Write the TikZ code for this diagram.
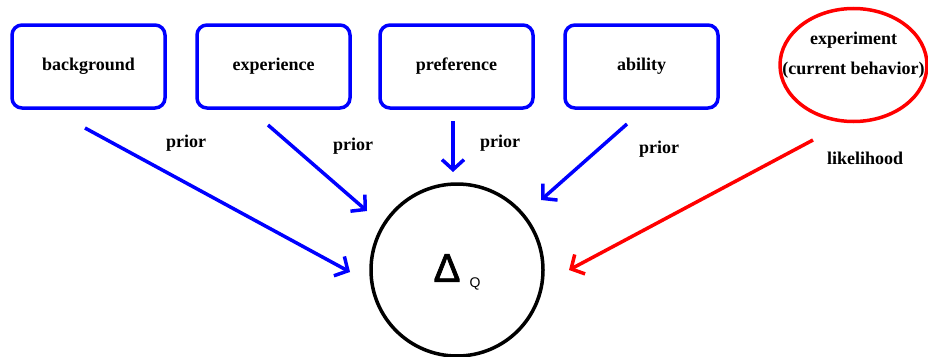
\documentclass[tikz,border=0pt]{standalone}
\usepackage{fontspec}
\setmainfont{Liberation Serif}
\newfontfamily\symfont{Liberation Sans}
\newfontfamily\trifont[FakeBold=2]{Liberation Sans}
\usetikzlibrary{arrows.meta,shapes.geometric}
\definecolor{pblue}{RGB}{0,0,255}
\definecolor{pred}{RGB}{255,0,0}
\tikzset{
  txt/.style={font=\fontsize{18}{21}\selectfont\bfseries},
  srcbox/.style={draw=pblue, line width=3.5pt, rounded corners=10pt, minimum width=153pt, minimum height=83pt, inner sep=0pt, txt},
  barb/.style={-{Straight Barb[length=10pt,width=22pt,line width=3.5pt]}, line width=3.5pt},
  bluearrow/.style={barb, draw=pblue},
  redarrow/.style={barb, draw=pred},
  lbl/.style={txt, inner sep=0pt}
}
\begin{document}
\begin{tikzpicture}[x=1pt,y=-1pt]
\useasboundingbox (0,0) rectangle (928,356);
\node[srcbox] (bg) at (88.5,66.5) {background};
\node[srcbox] (ex) at (273.5,66.5) {experience};
\node[srcbox] (pf) at (456.5,66.5) {preference};
\node[srcbox] (ab) at (641.5,66.5) {ability};
\node[draw=pred, line width=3.5pt, ellipse, minimum width=147pt, minimum height=113pt, inner sep=0pt] (em) at (853.5,65) {};
\node[inner sep=0pt, align=center, txt] (emt) at (853.5,55) {experiment\\[9pt](current behavior)};
\node[draw=black, line width=3.5pt, circle, minimum size=172pt, inner sep=0pt] (dq) at (457,270) {};
\node[inner sep=0pt, anchor=center] (tri) at (447,268) {\trifont\fontsize{40}{40}\selectfont Δ};
\node[inner sep=0pt, anchor=center, font=\symfont\fontsize{14}{14}\selectfont] (q) at (475,284) {Q};
\coordinate (s1) at (85,128);
\coordinate (e1) at (350,272);
\coordinate (s2) at (268,125);
\coordinate (e2) at (367,211);
\coordinate (s3) at (453,121);
\coordinate (e3) at (453,172);
\coordinate (s4) at (627,124);
\coordinate (e4) at (541,200);
\coordinate (s5) at (813,140);
\coordinate (e5) at (569,270);
\draw[bluearrow] (s1) -- (e1);
\draw[bluearrow] (s2) -- (e2);
\draw[bluearrow] (s3) -- (e3);
\draw[bluearrow] (s4) -- (e4);
\draw[redarrow] (s5) -- (e5);
\node[lbl] (p1) at (186,143) {prior};
\node[lbl] (p2) at (353,146) {prior};
\node[lbl] (p3) at (500,143) {prior};
\node[lbl] (p4) at (659,149) {prior};
\node[lbl] (lk) at (865,158) {likelihood};
\end{tikzpicture}
\end{document}
